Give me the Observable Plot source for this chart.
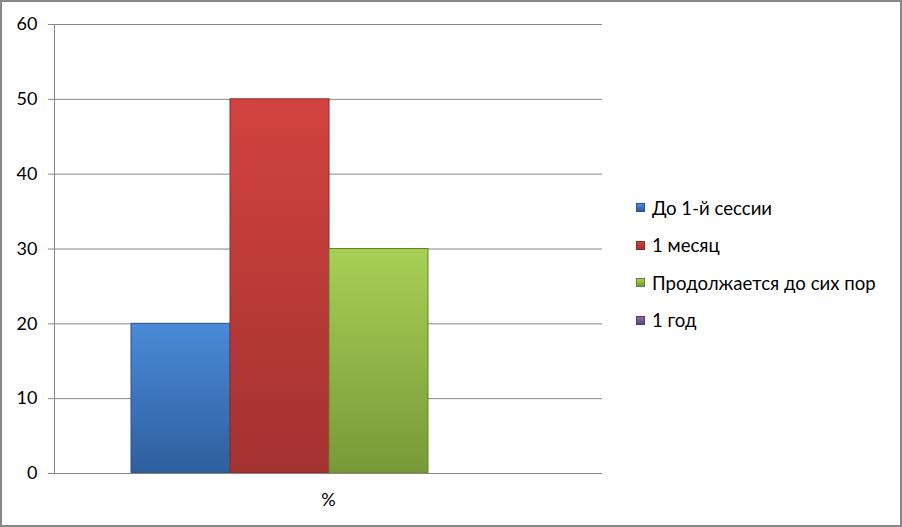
<!DOCTYPE html>
<html>
<head>
<meta charset="utf-8">
<script src="https://cdn.jsdelivr.net/npm/d3@7"></script>
<script src="https://cdn.jsdelivr.net/npm/@observablehq/plot@0.6"></script>
<style>
  html, body { margin: 0; padding: 0; background: #fff; }
  #wrap { position: relative; width: 902px; height: 527px; overflow: hidden; font-family: Lato, "Open Sans", sans-serif; }
  #border { position: absolute; left: 0; top: 0; width: 902px; height: 527px; box-sizing: border-box; border: 2.5px solid #878787; pointer-events: none; }
  #legend { position: absolute; left: 636px; top: 189px; }
  .item { display: flex; align-items: center; height: 37.5px; font-size: 18.6px; color: #000; white-space: nowrap; }
  .sw { width: 9px; height: 9px; margin-right: 7px; box-sizing: border-box; }
</style>
</head>
<body>
<div id="wrap"><div id="chart"></div><div id="legend"></div><div id="border"></div></div>
<script>
const categories = ["%"];
const series = ["До 1-й сессии", "1 месяц", "Продолжается до сих пор", "1 год"];
const values = [20, 50, 30, 0];
const yTicks = [0, 10, 20, 30, 40, 50, 60];
const colorsTop = ["#4a8ad9", "#d2433f", "#a8cf55", "#8a6bb0"];
const colorsBottom = ["#2f5f9e", "#a33230", "#789938", "#5f4580"];
const colorsStroke = ["#2a5386", "#8c2b29", "#66822f", "#52396e"];

const data = series.map((s, i) => ({cat: categories[0], series: s, value: values[i], i}));

const chart = Plot.plot({
  width: 902,
  height: 527,
  marginLeft: 54,
  marginRight: 300,
  marginTop: 24,
  marginBottom: 54,
  style: {fontFamily: "Lato, 'Open Sans', sans-serif", fontSize: "18px", color: "#000", background: "transparent"},
  fx: {domain: categories, padding: 0, label: null},
  x: {domain: series, padding: 0, insetLeft: 75, insetRight: 74, axis: null},
  y: {domain: [0, 60], label: null},
  color: {type: "identity"},
  marks: [
    Plot.gridY(yTicks, {stroke: "#878787", strokeOpacity: 1}),
    Plot.frame({anchor: "left", stroke: "#878787", strokeOpacity: 1}),
    Plot.axisY(yTicks, {tickSize: 6, tickPadding: 11, stroke: "#878787", fill: "#000", label: null}),
    Plot.axisFx({anchor: "bottom", tickSize: 0, tickPadding: 20, label: null, fill: "#000"}),
    Plot.barY(data.filter(d => d.value > 0), {
      fx: "cat", x: "series", y: "value",
      fill: d => `url(#grad${d.i})`,
      stroke: d => colorsStroke[d.i],
      strokeWidth: 1
    }),
    Plot.ruleY([0], {stroke: "#878787"})
  ]
});

// gradients
const defs = d3.select(chart).insert("defs", ":first-child");
series.forEach((s, i) => {
  const g = defs.append("linearGradient").attr("id", `grad${i}`).attr("x1", 0).attr("y1", 0).attr("x2", 0).attr("y2", 1);
  g.append("stop").attr("offset", "0%").attr("stop-color", colorsTop[i]);
  g.append("stop").attr("offset", "100%").attr("stop-color", colorsBottom[i]);
});
document.getElementById("chart").appendChild(chart);

// legend
const legend = d3.select("#legend");
series.forEach((s, i) => {
  const it = legend.append("div").attr("class", "item");
  it.append("div").attr("class", "sw")
    .style("background", `linear-gradient(${colorsTop[i]}, ${colorsBottom[i]})`)
    .style("border", `1px solid ${colorsStroke[i]}`);
  it.append("span").text(s);
});
</script>
</body>
</html>
